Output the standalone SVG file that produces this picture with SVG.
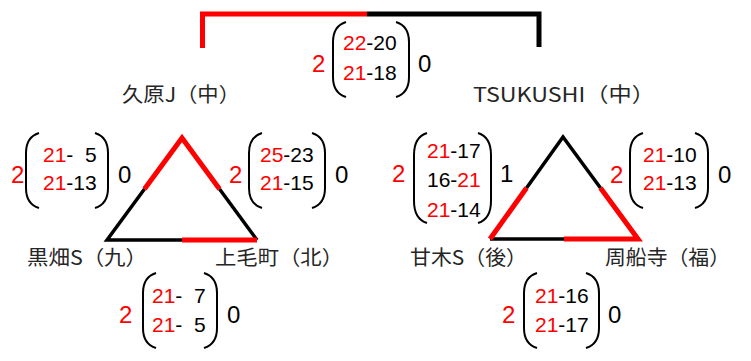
<svg xmlns="http://www.w3.org/2000/svg" width="751" height="361" viewBox="0 0 751 361">
<style>
.bg{fill:#fff}
.r{stroke:#ff0000;stroke-width:5;fill:none}
.k{stroke:#000;stroke-width:3.5;fill:none}
.kt{stroke:#000;stroke-width:5;fill:none}
.p{stroke:#000;stroke-width:2;fill:none}
.s{font-family:"Liberation Sans",Arial,sans-serif;font-size:21px;fill:#000;white-space:pre}
.big{font-family:"Liberation Sans",Arial,sans-serif;font-size:24px}
.w{fill:#ff0000}
.l{font-family:"Noto Sans CJK JP","Noto Sans",sans-serif;font-size:20px;fill:#262626}
</style>
<rect class="bg" width="751" height="361"/>
<g id="connectors">
  <path class="r" d="M202.5,48 L202.5,14 L367,14" stroke-width="5.5"/>
  <path class="kt" d="M367,14 L539,14 L539,47"/>
  <path class="k" d="M144.5,189 L107,240 L182,240"/>
  <path class="k" d="M219.5,189 L257,240"/>
  <path class="r" d="M144.5,189 L182,138 L219.5,189"/>
  <path class="r" d="M182,240 L257,240"/>
  <path class="k" d="M526.5,188 L563,137 L600.5,188"/>
  <path class="k" d="M490,239 L564,239"/>
  <path class="r" d="M526.5,188 L490,239"/>
  <path class="r" d="M600.5,188 L638,239 L564,239"/>
</g>
<g id="team-kubara">
  <text class="l" x="122" y="102" textLength="118" lengthAdjust="spacingAndGlyphs">久原J（中）</text>
</g>
<g id="team-tsukushi">
  <text class="l" x="473" y="102" textLength="182" lengthAdjust="spacingAndGlyphs">TSUKUSHI（中）</text>
</g>
<g id="team-kurohata">
  <text class="l" x="27" y="265" textLength="120" lengthAdjust="spacingAndGlyphs">黒畑S（九）</text>
</g>
<g id="team-kamige">
  <text class="l" x="215" y="265" textLength="128" lengthAdjust="spacingAndGlyphs">上毛町（北）</text>
</g>
<g id="team-amagi">
  <text class="l" x="410" y="265" textLength="117" lengthAdjust="spacingAndGlyphs">甘木S（後）</text>
</g>
<g id="team-shusenji">
  <text class="l" x="605" y="265" textLength="125" lengthAdjust="spacingAndGlyphs">周船寺（福）</text>
</g>
<g id="score-final">
  <text class="big w" x="312" y="72">2</text>
  <path class="p" d="M346,22 Q333,26 333,42 L333,77 Q333,93 346,97"/>
  <text class="s" x="343" y="50"><tspan class="w">22</tspan>-20</text>
  <text class="s" x="343" y="80"><tspan class="w">21</tspan>-18</text>
  <path class="p" d="M396,22 Q409,26 409,42 L409,77 Q409,93 396,97"/>
  <text class="big" x="418" y="72">0</text>
</g>
<g id="score-kubara-kurohata">
  <text class="big w" x="11" y="183">2</text>
  <path class="p" d="M39,133 Q26,137 26,153 L26,188 Q26,204 39,208"/>
  <text class="s" x="43" y="162" xml:space="preserve"><tspan class="w">21</tspan>-  5</text>
  <text class="s" x="43" y="190"><tspan class="w">21</tspan>-13</text>
  <path class="p" d="M95,133 Q108,137 108,153 L108,188 Q108,204 95,208"/>
  <text class="big" x="118" y="183">0</text>
</g>
<g id="score-kubara-kamige">
  <text class="big w" x="229" y="183">2</text>
  <path class="p" d="M262,133 Q249,137 249,153 L249,188 Q249,204 262,208"/>
  <text class="s" x="260" y="162"><tspan class="w">25</tspan>-23</text>
  <text class="s" x="260" y="190"><tspan class="w">21</tspan>-15</text>
  <path class="p" d="M312,133 Q325,137 325,153 L325,188 Q325,204 312,208"/>
  <text class="big" x="335" y="183">0</text>
</g>
<g id="score-kamige-kurohata">
  <text class="big w" x="119" y="323">2</text>
  <path class="p" d="M156,273 Q143,277 143,293 L143,328 Q143,344 156,348"/>
  <text class="s" x="152" y="303" xml:space="preserve"><tspan class="w">21</tspan>-  7</text>
  <text class="s" x="152" y="332" xml:space="preserve"><tspan class="w">21</tspan>-  5</text>
  <path class="p" d="M204,273 Q217,277 217,293 L217,328 Q217,344 204,348"/>
  <text class="big" x="227" y="323">0</text>
</g>
<g id="score-amagi-tsukushi">
  <text class="big w" x="392" y="182">2</text>
  <path class="p" d="M427,133 Q414,137 414,155 L414,201 Q414,219 427,223"/>
  <text class="s" x="427" y="158"><tspan class="w">21</tspan>-17</text>
  <text class="s" x="427" y="187">16-<tspan class="w">21</tspan></text>
  <text class="s" x="427" y="217"><tspan class="w">21</tspan>-14</text>
  <path class="p" d="M478,133 Q491,137 491,155 L491,201 Q491,219 478,223"/>
  <text class="big" x="500" y="182">1</text>
</g>
<g id="score-shusenji-tsukushi">
  <text class="big w" x="610" y="183">2</text>
  <path class="p" d="M643,133 Q630,137 630,153 L630,188 Q630,204 643,208"/>
  <text class="s" x="643" y="162"><tspan class="w">21</tspan>-10</text>
  <text class="s" x="643" y="190"><tspan class="w">21</tspan>-13</text>
  <path class="p" d="M695,133 Q708,137 708,153 L708,188 Q708,204 695,208"/>
  <text class="big" x="718" y="183">0</text>
</g>
<g id="score-shusenji-amagi">
  <text class="big w" x="502" y="323">2</text>
  <path class="p" d="M537,273 Q524,277 524,293 L524,328 Q524,344 537,348"/>
  <text class="s" x="535" y="303"><tspan class="w">21</tspan>-16</text>
  <text class="s" x="535" y="332"><tspan class="w">21</tspan>-17</text>
  <path class="p" d="M586,273 Q599,277 599,293 L599,328 Q599,344 586,348"/>
  <text class="big" x="608" y="323">0</text>
</g>
</svg>
